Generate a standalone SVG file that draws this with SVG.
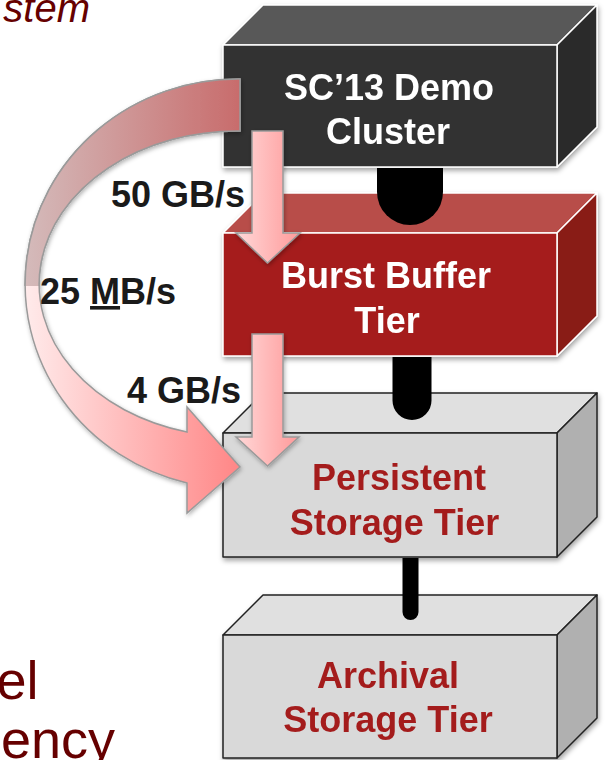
<svg xmlns="http://www.w3.org/2000/svg" width="605" height="760" viewBox="0 0 605 760">
<style>
  .bold { font-family: "Liberation Sans", Arial, sans-serif; font-weight: bold; font-size: 36px; }
  .white { fill: #ffffff; }
  .red { fill: #a41e1e; }
  .lbl { fill: #1a1a1a; }
  .bg { font-family: "Liberation Sans", Arial, sans-serif; fill: #660000; }
  .edgeW { stroke: #ffffff; stroke-width: 1.5; stroke-linejoin: round; }
  .edgeK { stroke: #222222; stroke-width: 1.5; stroke-linejoin: round; }
  .link { fill: #000000; }
  .flow { stroke: #9a9a9a; stroke-width: 1.5; stroke-linejoin: miter; }
</style>
<defs>
  <filter id="shadow" x="-10%" y="-10%" width="125%" height="130%">
    <feDropShadow dx="1" dy="3" stdDeviation="2.5" flood-color="#000" flood-opacity="0.35"/>
  </filter>
  <filter id="ashadow" x="-10%" y="-10%" width="125%" height="125%">
    <feDropShadow dx="1" dy="2" stdDeviation="2" flood-color="#000" flood-opacity="0.3"/>
  </filter>
  <linearGradient id="gStraight" x1="0" y1="0" x2="1" y2="0">
    <stop offset="0" stop-color="#ffd8d8"/>
    <stop offset="1" stop-color="#ff9a9a"/>
  </linearGradient>
  <linearGradient id="gFront" gradientUnits="userSpaceOnUse" x1="27" y1="0" x2="240" y2="0">
    <stop offset="0" stop-color="#ffeaea"/>
    <stop offset="1" stop-color="#ff8686"/>
  </linearGradient>
  <linearGradient id="gBack" gradientUnits="userSpaceOnUse" x1="27" y1="0" x2="240" y2="0">
    <stop offset="0" stop-color="#d4baba"/>
    <stop offset="1" stop-color="#c86c6c"/>
  </linearGradient>
  <clipPath id="backClip"><rect x="0" y="0" width="300" height="286"/></clipPath>
</defs>

<!-- partial background texts -->
<text class="bg" x="90" y="22" font-size="40" font-style="italic" text-anchor="end">stem</text>
<text class="bg" x="38.5" y="699" font-size="54" text-anchor="end">el</text>
<text class="bg" x="1" y="758" font-size="54">ency</text>

<!-- nodes -->
<g id="archival" filter="url(#shadow)">
  <polygon points="223,635 263,595 597,595 557,635" fill="#e0e0e0" class="edgeK"/>
  <polygon points="557,635 597,595 597,718 557,758" fill="#b0b0b0" class="edgeK"/>
  <rect x="223" y="635" width="334" height="123" fill="#d9d9d9" class="edgeK"/>
  <text class="bold red" x="388" y="688" text-anchor="middle">Archival</text>
  <text class="bold red" x="388" y="732" text-anchor="middle">Storage Tier</text>
</g>

<g id="persistent" filter="url(#shadow)">
  <polygon points="223,433 263,393 597,393 557,433" fill="#e0e0e0" class="edgeK"/>
  <polygon points="557,433 597,393 597,517 557,557" fill="#b0b0b0" class="edgeK"/>
  <rect x="223" y="433" width="334" height="124" fill="#d9d9d9" class="edgeK"/>
  <text class="bold red" x="399" y="490" text-anchor="middle">Persistent</text>
  <text class="bold red" x="394.5" y="535" text-anchor="middle">Storage Tier</text>
</g>

<g id="burst-buffer" filter="url(#shadow)">
  <polygon points="223,233 263,193 597,193 557,233" fill="#b84e4a" class="edgeW"/>
  <polygon points="557,233 597,193 597,316 557,356" fill="#891a17" class="edgeW"/>
  <rect x="223" y="233" width="334" height="123" fill="#a51e1b" class="edgeW"/>
  <text class="bold white" x="386" y="288" text-anchor="middle">Burst Buffer</text>
  <text class="bold white" x="387" y="333" text-anchor="middle">Tier</text>
</g>

<g id="sc13-cluster" filter="url(#shadow)">
  <polygon points="223,45 263,5 597,5 557,45" fill="#595959" class="edgeW"/>
  <polygon points="557,45 597,5 597,127 557,167" fill="#2b2b2b" class="edgeW"/>
  <rect x="223" y="45" width="334" height="122" fill="#333333" class="edgeW"/>
  <text class="bold white" x="389" y="100" text-anchor="middle">SC’13 Demo</text>
  <text class="bold white" x="388" y="144" text-anchor="middle">Cluster</text>
</g>

<!-- connectors -->
<g id="connectors">
  <path class="link" d="M377,168 V192 A33,33 0 0 0 443,192 V168 Z"/>
  <path class="link" d="M392.5,357 V400.5 A19.5,19.5 0 0 0 431.5,400.5 V357 Z"/>
  <path class="link" d="M402.5,558 V612 A8,8 0 0 0 418.5,612 V558 Z"/>

  <g id="flow-archive" filter="url(#ashadow)">
    <path class="flow" fill="url(#gFront)" d="M240,79 A213,205 0 0 0 187,483 L187,513 L240,467 L187,407 L187,432 A198,153 0 0 1 240,131 Z"/>
    <path clip-path="url(#backClip)" fill="url(#gBack)" class="flow" d="M240,79 A213,205 0 0 0 187,483 L187,513 L240,467 L187,407 L187,432 A198,153 0 0 1 240,131 Z"/>
  </g>
  <path id="flow-bb" class="flow" fill="url(#gStraight)" filter="url(#ashadow)" d="M252,131 H283 V233 H300 L267.5,263 L236,233 H252 Z"/>
  <path id="flow-ps" class="flow" fill="url(#gStraight)" filter="url(#ashadow)" d="M252,334 H283 V437 H299 L267.5,466 L236,437 H252 Z"/>
</g>

<g id="flow-labels">
  <text class="bold lbl" x="245" y="207" text-anchor="end">50 GB/s</text>
  <text class="bold lbl" x="40" y="304">25 <tspan text-decoration="underline">M</tspan>B/s</text>
  <text class="bold lbl" x="241" y="403" text-anchor="end">4 GB/s</text>
</g>
</svg>
